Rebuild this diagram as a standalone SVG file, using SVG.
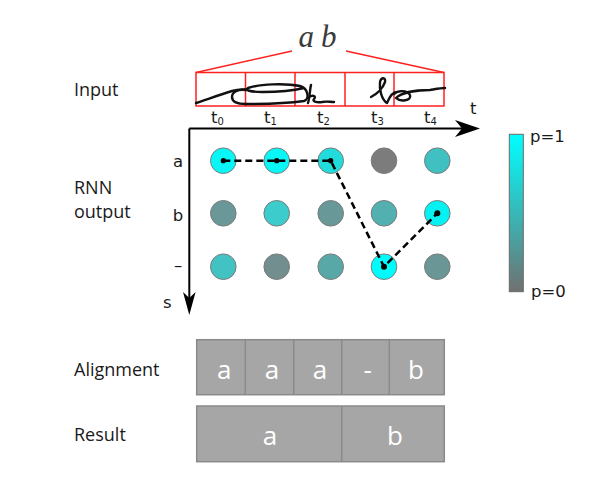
<svg xmlns="http://www.w3.org/2000/svg" width="607" height="487" viewBox="0 0 607 487">
<defs>
<linearGradient id="bar" x1="0" y1="0" x2="0" y2="1">
<stop offset="0" stop-color="#00ffff"/>
<stop offset="1" stop-color="#707070"/>
</linearGradient>
</defs>
<style>
.lbl{font-family:"Open Sans","Liberation Sans",sans-serif;font-size:18px;fill:#1a1a1a}
.ax{font-family:"DejaVu Sans","Liberation Sans",sans-serif;font-size:16.5px;fill:#1a1a1a}
.sub{font-size:10px}
.red{fill:none;stroke:#ff2020;stroke-width:1.5}
.hw{fill:none;stroke:#111;stroke-width:2.4;stroke-linecap:round;stroke-linejoin:round}
.node{stroke:#7a7a7a;stroke-width:1}
.box{fill:#a6a6a6;stroke:#8a8a8a;stroke-width:1.5}
.bt{font-family:"Open Sans","Liberation Sans",sans-serif;font-size:26px;fill:#ffffff;text-anchor:middle}
.dot{fill:#000}
</style>
<rect width="607" height="487" fill="#ffffff"/>

<g id="labels">
<text class="lbl" x="74" y="96">Input</text>
<text class="lbl" x="74" y="194">RNN</text>
<text class="lbl" x="74" y="218">output</text>
<text class="lbl" x="74" y="376">Alignment</text>
<text class="lbl" x="74" y="441">Result</text>
</g>

<g id="input">
<text x="321" y="47" font-family="'Liberation Serif',serif" font-style="italic" font-size="31" fill="#3a3a3a" text-anchor="middle" letter-spacing="7">ab</text>
<polyline class="red" points="292,51 196,72.5"/>
<polyline class="red" points="346,51 444,72.5"/>
<rect class="red" x="196" y="72.5" width="248" height="33.5"/>
<line class="red" x1="245.5" y1="72.5" x2="245.5" y2="106"/>
<line class="red" x1="295" y1="72.5" x2="295" y2="106"/>
<line class="red" x1="345" y1="72.5" x2="345" y2="106"/>
<line class="red" x1="394" y1="72.5" x2="394" y2="106"/>
<path class="hw" d="M196,103 C208,99 222,94 232,91 C240,89 246,89 246,90"/>
<path class="hw" stroke-width="3.2" d="M246,90 C238,89 232,92 232,97 C232,102 238,104 246,104"/>
<path class="hw" d="M246,104 C265,104 290,103 304,101 C310,99 308,88 300,86 C285,83 260,84 248,88 C244,90 250,92 262,92 C280,92 296,90 304,88"/>
<path class="hw" d="M308,103 C310,96 310,88 311,85 M308,98 C312,94 317,96 314,99 C312,101 316,103 322,102 C326,101 330,102 334,102"/>
<path class="hw" d="M371,97 C377,94 383,88 385,82 C386,77 381,77 380,82 C379,90 382,100 387,103 M387,103 C389,98 392,92 397,92 M394,94 C398,90 407,90 410,95 C412,101 400,102 396,98 C402,92 418,90 430,90 C436,89 441,88 445,88"/>
</g>

<g id="axes">
<line x1="189.3" y1="128.5" x2="463" y2="128.5" stroke="#000" stroke-width="2"/>
<polygon points="480,128.5 455,120 462,128.5 455,137" fill="#000"/>
<line x1="189.3" y1="128.5" x2="189.3" y2="298" stroke="#000" stroke-width="2"/>
<polygon points="189.3,315 183,292 189.3,298 195.6,292" fill="#000"/>
<text class="ax" x="470" y="114">t</text>
<text class="ax" x="163" y="308">s</text>
<text class="ax" x="178" y="167" text-anchor="middle">a</text>
<text class="ax" x="178" y="221" text-anchor="middle">b</text>
<text class="ax" x="178" y="271" text-anchor="middle">–</text>
<text class="ax" x="211" y="123">t<tspan class="sub" dy="2">0</tspan></text>
<text class="ax" x="264" y="123">t<tspan class="sub" dy="2">1</tspan></text>
<text class="ax" x="317" y="123">t<tspan class="sub" dy="2">2</tspan></text>
<text class="ax" x="371" y="123">t<tspan class="sub" dy="2">3</tspan></text>
<text class="ax" x="424" y="123">t<tspan class="sub" dy="2">4</tspan></text>
</g>

<g id="nodes">
<g id="n-a0"><circle class="node" cx="223.3" cy="160.7" r="12.8" fill="#08f6f6"/></g>
<g id="n-a1"><circle class="node" cx="276.7" cy="160.7" r="12.8" fill="#08f6f6"/></g>
<g id="n-a2"><circle class="node" cx="330.7" cy="160.7" r="12.8" fill="#22dcdc"/></g>
<g id="n-a3"><circle class="node" cx="384" cy="160.7" r="12.8" fill="#7c7c7c"/></g>
<g id="n-a4"><circle class="node" cx="437.3" cy="160.7" r="12.8" fill="#40c0c0"/></g>
<g id="n-b0"><circle class="node" cx="223.3" cy="213.3" r="12.8" fill="#6a9898"/></g>
<g id="n-b1"><circle class="node" cx="276.7" cy="213.3" r="12.8" fill="#3ccccc"/></g>
<g id="n-b2"><circle class="node" cx="330.7" cy="213.3" r="12.8" fill="#689898"/></g>
<g id="n-b3"><circle class="node" cx="384" cy="213.3" r="12.8" fill="#52b0b0"/></g>
<g id="n-b4"><circle class="node" cx="437.3" cy="213.3" r="12.8" fill="#06f2f2"/></g>
<g id="n-c0"><circle class="node" cx="223.3" cy="266.7" r="12.8" fill="#42c2c2"/></g>
<g id="n-c1"><circle class="node" cx="276.7" cy="266.7" r="12.8" fill="#728e8e"/></g>
<g id="n-c2"><circle class="node" cx="330.7" cy="266.7" r="12.8" fill="#58a8a8"/></g>
<g id="n-c3"><circle class="node" cx="384" cy="266.7" r="12.8" fill="#00fcfc"/></g>
<g id="n-c4"><circle class="node" cx="437.3" cy="266.7" r="12.8" fill="#6a9696"/></g>
</g>

<g id="connectors">
<polyline points="223.3,160.7 276.7,160.7 330.7,160.7 384,266.7 437.3,213.3" fill="none" stroke="#000" stroke-width="2.5" stroke-dasharray="7,4"/>
<circle class="dot" cx="223.3" cy="160.7" r="2.6"/>
<circle class="dot" cx="276.7" cy="160.7" r="2.6"/>
<circle class="dot" cx="330.7" cy="160.7" r="2.6"/>
<circle class="dot" cx="384" cy="266.7" r="3"/>
<circle class="dot" cx="437.3" cy="213.3" r="3"/>
</g>

<g id="colorbar">
<rect x="509.3" y="134.3" width="14" height="157.4" fill="url(#bar)" stroke="#6a6a6a" stroke-width="1"/>
<text class="ax" x="530" y="142">p=1</text>
<text class="ax" x="531" y="297">p=0</text>
</g>

<g id="alignment">
<rect class="box" x="196.7" y="339.7" width="247.6" height="55"/>
<line x1="245.3" y1="339.7" x2="245.3" y2="394.7" stroke="#8a8a8a" stroke-width="1.5"/>
<line x1="293.7" y1="339.7" x2="293.7" y2="394.7" stroke="#8a8a8a" stroke-width="1.5"/>
<line x1="341.7" y1="339.7" x2="341.7" y2="394.7" stroke="#8a8a8a" stroke-width="1.5"/>
<line x1="389.3" y1="339.7" x2="389.3" y2="394.7" stroke="#8a8a8a" stroke-width="1.5"/>
<text class="bt" x="224.3" y="378.7">a</text>
<text class="bt" x="272" y="378.7">a</text>
<text class="bt" x="320" y="378.7">a</text>
<text class="bt" x="367.7" y="378.7">-</text>
<text class="bt" x="416" y="378.7">b</text>
</g>

<g id="result">
<rect class="box" x="196.7" y="406" width="247.6" height="55.7"/>
<line x1="341.7" y1="406" x2="341.7" y2="461.7" stroke="#8a8a8a" stroke-width="1.5"/>
<text class="bt" x="270" y="445">a</text>
<text class="bt" x="395" y="445">b</text>
</g>
</svg>
